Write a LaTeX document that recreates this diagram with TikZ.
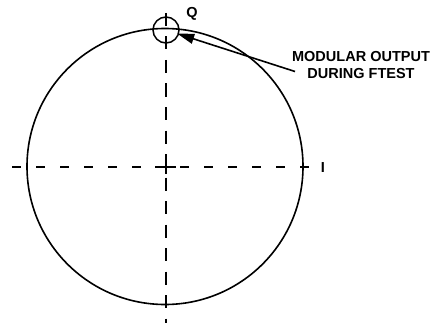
\documentclass[tikz,border=0pt]{standalone}
\usepackage{fontspec}
\setmainfont{Liberation Sans}
\usetikzlibrary{arrows.meta}
\begin{document}
\begin{tikzpicture}[x=1pt,y=-1pt,
  lbl/.style={font=\fontsize{14.5}{17}\selectfont\bfseries, inner sep=0pt},
  hdash/.style={line width=1.3pt, dash pattern=on 9pt off 15pt},
  vdash/.style={line width=1.3pt, dash pattern=on 13pt off 10.5pt},
  ring/.style={draw, line width=1.6pt, circle, inner sep=0pt}]
\useasboundingbox (0,0) rectangle (443,326);
\node[ring, minimum size=276pt] (big) at (165,166.5) {};
\node[ring, line width=1.5pt, minimum size=26pt] (small) at (166,30) {};
\coordinate (hl) at (12,167);
\coordinate (hr) at (313,167);
\coordinate (vt) at (166,13);
\coordinate (vb) at (166,323);
\draw[hdash] (hl) -- (hr);
\draw[vdash] (vt) -- (vb);
\draw[line width=1.3pt] (155,167) -- (176,167);
\draw[line width=1.3pt] (166,160) -- (166,174);
\node[lbl] (Q) at (192,13.5) {Q};
\node[lbl] (I) at (323,167.5) {I};
\node[lbl, align=center] (txt) at (361,65) {MODULAR OUTPUT\\DURING FTEST};
\coordinate (tail) at (295,71.5);
\draw[line width=1.6pt, -{Triangle[length=17pt,width=10pt]}, shorten >=-2pt] (tail) -- (small);
\end{tikzpicture}
\end{document}
